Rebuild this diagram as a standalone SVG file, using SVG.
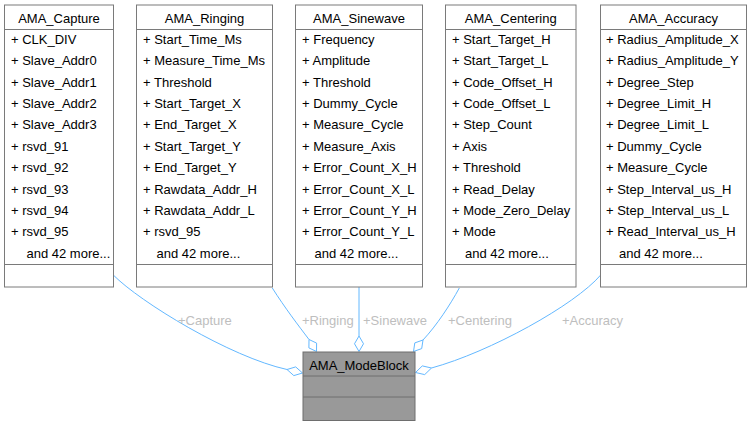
<svg xmlns="http://www.w3.org/2000/svg" width="752" height="427" viewBox="0 0 752 427">
<style>
.box{fill:#ffffff;stroke:#7a7a7a;stroke-width:1}
.main{fill:#999999;stroke:#6e6e6e;stroke-width:1}
.sep{stroke:#7a7a7a;stroke-width:1;fill:none}
.sepm{stroke:#6e6e6e;stroke-width:1;fill:none}
text{font-family:"Liberation Sans",Arial,sans-serif;font-size:13px;fill:#000000}
.h{text-anchor:middle}
.edge{fill:none;stroke:#63b8ff;stroke-width:1}
.dia{fill:#ffffff;stroke:#63b8ff;stroke-width:1}
.lbl{fill:#bebebe}
</style>
<rect width="752" height="427" fill="#ffffff"/>
<g id="connectors">
<path class="edge" d="M113.3,275 C140,302 230,357 287,369.5"/>
<path class="dia" d="M302.5,373 L293.8,375.6 L287,369.5 L295.7,366.9 Z"/>
<text class="lbl" x="178" y="324.5">+Capture</text>
<path class="edge" d="M272.3,288 C285,308 298,325 309,339.5"/>
<path class="dia" d="M316.5,351.5 L308.9,347.9 L309,339.5 L316.6,343.1 Z"/>
<text class="lbl" x="302" y="324.5">+Ringing</text>
<path class="edge" d="M359,287 L359,336"/>
<path class="dia" d="M359,351.5 L363.5,343.75 L359,336 L354.5,343.75 Z"/>
<text class="lbl" x="363" y="324.5">+Sinewave</text>
<path class="edge" d="M459.3,288 C450,305 437,325 423,340"/>
<path class="dia" d="M413.5,351.5 L414.8,342.9 L423,340 L421.7,348.6 Z"/>
<text class="lbl" x="448" y="324.5">+Centering</text>
<path class="edge" d="M600.7,275 C575,305 490,352 431.5,368"/>
<path class="dia" d="M415.5,372.5 L422.3,365.9 L431.5,368 L424.7,374.6 Z"/>
<text class="lbl" x="562" y="324.5">+Accuracy</text>
</g>
<g id="AMA_Capture">
<rect class="box" x="4.5" y="5" width="109" height="282"/>
<path class="sep" d="M4.5,29.5 H113.5 M4.5,264.5 H113.5"/>
<text class="h" x="59" y="23">AMA_Capture</text>
<text x="11" y="44">+ CLK_DIV</text>
<text x="11" y="65.4">+ Slave_Addr0</text>
<text x="11" y="86.7">+ Slave_Addr1</text>
<text x="11" y="108.1">+ Slave_Addr2</text>
<text x="11" y="129.4">+ Slave_Addr3</text>
<text x="11" y="150.8">+ rsvd_91</text>
<text x="11" y="172.2">+ rsvd_92</text>
<text x="11" y="193.5">+ rsvd_93</text>
<text x="11" y="214.9">+ rsvd_94</text>
<text x="11" y="236.2">+ rsvd_95</text>
<text x="26.5" y="257.6">and 42 more...</text>
</g>
<g id="AMA_Ringing">
<rect class="box" x="136.5" y="5" width="136" height="282"/>
<path class="sep" d="M136.5,29.5 H272.5 M136.5,264.5 H272.5"/>
<text class="h" x="204.5" y="23">AMA_Ringing</text>
<text x="143" y="44">+ Start_Time_Ms</text>
<text x="143" y="65.4">+ Measure_Time_Ms</text>
<text x="143" y="86.7">+ Threshold</text>
<text x="143" y="108.1">+ Start_Target_X</text>
<text x="143" y="129.4">+ End_Target_X</text>
<text x="143" y="150.8">+ Start_Target_Y</text>
<text x="143" y="172.2">+ End_Target_Y</text>
<text x="143" y="193.5">+ Rawdata_Addr_H</text>
<text x="143" y="214.9">+ Rawdata_Addr_L</text>
<text x="143" y="236.2">+ rsvd_95</text>
<text x="156.5" y="257.6">and 42 more...</text>
</g>
<g id="AMA_Sinewave">
<rect class="box" x="295.5" y="5" width="127" height="282"/>
<path class="sep" d="M295.5,29.5 H422.5 M295.5,264.5 H422.5"/>
<text class="h" x="359" y="23">AMA_Sinewave</text>
<text x="302" y="44">+ Frequency</text>
<text x="302" y="65.4">+ Amplitude</text>
<text x="302" y="86.7">+ Threshold</text>
<text x="302" y="108.1">+ Dummy_Cycle</text>
<text x="302" y="129.4">+ Measure_Cycle</text>
<text x="302" y="150.8">+ Measure_Axis</text>
<text x="302" y="172.2">+ Error_Count_X_H</text>
<text x="302" y="193.5">+ Error_Count_X_L</text>
<text x="302" y="214.9">+ Error_Count_Y_H</text>
<text x="302" y="236.2">+ Error_Count_Y_L</text>
<text x="314.5" y="257.6">and 42 more...</text>
</g>
<g id="AMA_Centering">
<rect class="box" x="445.5" y="5" width="130.5" height="282"/>
<path class="sep" d="M445.5,29.5 H576 M445.5,264.5 H576"/>
<text class="h" x="510.75" y="23">AMA_Centering</text>
<text x="452" y="44">+ Start_Target_H</text>
<text x="452" y="65.4">+ Start_Target_L</text>
<text x="452" y="86.7">+ Code_Offset_H</text>
<text x="452" y="108.1">+ Code_Offset_L</text>
<text x="452" y="129.4">+ Step_Count</text>
<text x="452" y="150.8">+ Axis</text>
<text x="452" y="172.2">+ Threshold</text>
<text x="452" y="193.5">+ Read_Delay</text>
<text x="452" y="214.9">+ Mode_Zero_Delay</text>
<text x="452" y="236.2">+ Mode</text>
<text x="465" y="257.6">and 42 more...</text>
</g>
<g id="AMA_Accuracy">
<rect class="box" x="600.5" y="5" width="146" height="282"/>
<path class="sep" d="M600.5,29.5 H746.5 M600.5,264.5 H746.5"/>
<text class="h" x="673.5" y="23">AMA_Accuracy</text>
<text x="606" y="44">+ Radius_Amplitude_X</text>
<text x="606" y="65.4">+ Radius_Amplitude_Y</text>
<text x="606" y="86.7">+ Degree_Step</text>
<text x="606" y="108.1">+ Degree_Limit_H</text>
<text x="606" y="129.4">+ Degree_Limit_L</text>
<text x="606" y="150.8">+ Dummy_Cycle</text>
<text x="606" y="172.2">+ Measure_Cycle</text>
<text x="606" y="193.5">+ Step_Interval_us_H</text>
<text x="606" y="214.9">+ Step_Interval_us_L</text>
<text x="606" y="236.2">+ Read_Interval_us_H</text>
<text x="619" y="257.6">and 42 more...</text>
</g>
<g id="AMA_ModeBlock">
<rect class="main" x="303" y="352" width="112" height="68.5"/>
<path class="sepm" d="M303,376 H415 M303,397 H415"/>
<text class="h" x="359" y="369.5">AMA_ModeBlock</text>
</g>
</svg>
